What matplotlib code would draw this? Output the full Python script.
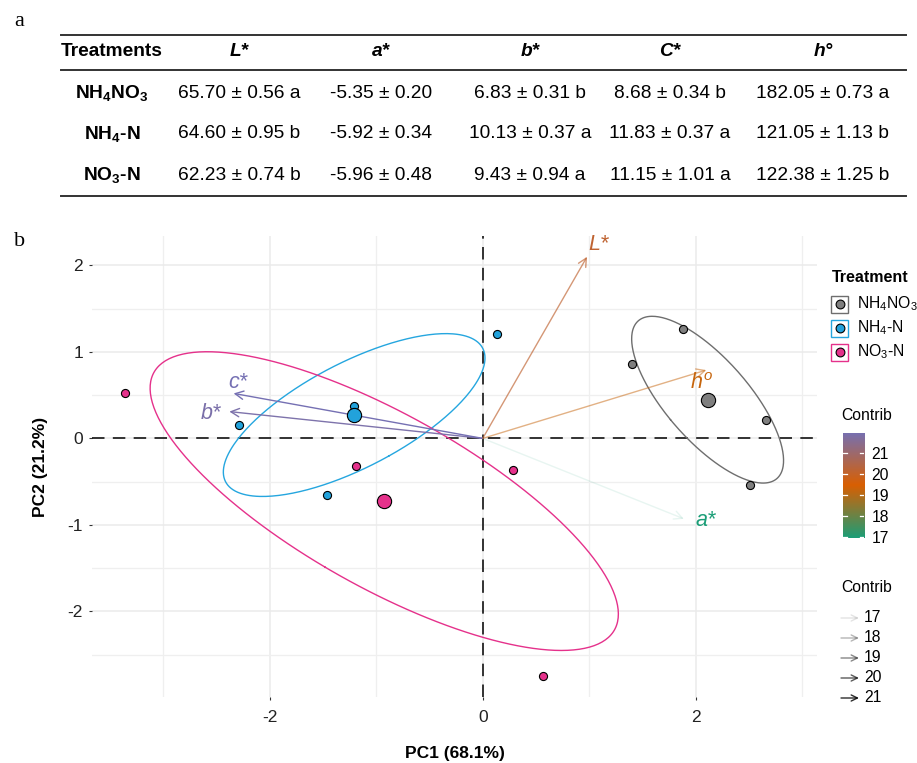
import numpy as np
import matplotlib
matplotlib.use("Agg")
import matplotlib.pyplot as plt
from matplotlib.colors import LinearSegmentedColormap, Normalize
from matplotlib.ticker import MultipleLocator, FixedLocator
from matplotlib.lines import Line2D
from matplotlib.patches import Rectangle

plt.rcParams['font.family'] = ['Liberation Sans', 'DejaVu Sans']
plt.rcParams['mathtext.fontset'] = 'custom'
plt.rcParams['mathtext.default'] = 'regular'
plt.rcParams['mathtext.it'] = 'Liberation Sans:italic'
plt.rcParams['mathtext.rm'] = 'Liberation Sans'
plt.rcParams['lines.scale_dashes'] = False
plt.rcParams['axes.unicode_minus'] = False

# ---------------- data: table (panel a) ----------------
treatments = ['NH$_4$NO$_3$', 'NH$_4$-N', 'NO$_3$-N']
headers = ['Treatments', 'L*', 'a*', 'b*', 'C*', 'h°']
L_mean = [65.70, 64.60, 62.23]
L_sd = [0.56, 0.95, 0.74]
L_grp = ['a', 'b', 'b']
a_mean = [-5.35, -5.92, -5.96]
a_sd = [0.20, 0.34, 0.48]
a_grp = ['', '', '']
b_mean = [6.83, 10.13, 9.43]
b_sd = [0.31, 0.37, 0.94]
b_grp = ['b', 'a', 'a']
C_mean = [8.68, 11.83, 11.15]
C_sd = [0.34, 0.37, 1.01]
C_grp = ['b', 'a', 'a']
h_mean = [182.05, 121.05, 122.38]
h_sd = [0.73, 1.13, 1.25]
h_grp = ['a', 'b', 'b']

# ---------------- data: PCA biplot (panel b) ----------------
groups = ['NH$_4$NO$_3$', 'NH$_4$-N', 'NO$_3$-N']
pc1_NH4NO3 = [1.40, 1.88, 2.66, 2.51]
pc2_NH4NO3 = [0.86, 1.26, 0.21, -0.54]
pc1_NH4N = [-2.29, -1.21, -1.46, 0.13]
pc2_NH4N = [0.15, 0.38, -0.66, 1.21]
pc1_NO3N = [-3.36, -1.19, 0.28, 0.57]
pc2_NO3N = [0.53, -0.32, -0.36, -2.75]

var_names = ['L*', 'a*', 'b*', 'c*', 'h°']
var_pc1 = [0.98, 1.89, -2.38, -2.34, 2.10]
var_pc2 = [2.10, -0.93, 0.31, 0.52, 0.79]
var_contrib = [20.1, 16.95, 21.8, 21.95, 19.2]

contrib_ticks = [17, 18, 19, 20, 21]
pc1_var_pct = 68.1
pc2_var_pct = 21.2

# ---------------- styling ----------------
fill_cols = ['#7F7F7F', '#22A2DB', '#E5318B']
ell_cols = ['#6E6E6E', '#25A6DF', '#E5318B']
grad = LinearSegmentedColormap.from_list('g', ['#1B9E77', '#D95F02', '#7570B3'])
cnorm = Normalize(min(var_contrib), max(var_contrib))


def alpha_of(c):
    return 0.1 + 0.9 * (c - cnorm.vmin) / (cnorm.vmax - cnorm.vmin)


W, H = 917, 763
fig = plt.figure(figsize=(W / 100, H / 100), dpi=100)
ov = fig.add_axes([0, 0, 1, 1])
ov.set_xlim(0, W)
ov.set_ylim(H, 0)
ov.axis('off')

# ---------------- panel a: table ----------------
ov.text(14, 22, 'a', fontsize=16, family='Liberation Serif', va='center', ha='left')
ov.text(14, 241, 'b', fontsize=16, family='Liberation Serif', va='center', ha='left')
for yy in (35, 70, 196):
    ov.add_line(Line2D([61, 906], [yy, yy], color='#333333', lw=1.4))

col_x = [112, 239, 381, 530, 670, 823]
hdr_y = 52
row_y = [93, 134, 175]
tfs = 13.8
for i, h in enumerate(headers):
    style = 'normal' if i == 0 else 'italic'
    ov.text(col_x[i], hdr_y, h, fontsize=tfs, fontweight='bold', fontstyle=style,
            ha='center', va='center')


def fmt(m, s, g):
    t = f'{m:.2f} ± {s:.2f}'
    return t + (' ' + g if g else '')


cols = [(L_mean, L_sd, L_grp), (a_mean, a_sd, a_grp), (b_mean, b_sd, b_grp),
        (C_mean, C_sd, C_grp), (h_mean, h_sd, h_grp)]
for r, tr in enumerate(treatments):
    ov.text(col_x[0], row_y[r], tr, fontsize=tfs, fontweight='bold', ha='center', va='center')
    for c, (m, s, g) in enumerate(cols):
        ov.text(col_x[c + 1], row_y[r], fmt(m[r], s[r], g[r]), fontsize=tfs,
                ha='center', va='center')

# ---------------- panel b: PCA biplot ----------------
ax = fig.add_axes([92 / W, 1 - 697 / H, (817 - 92) / W, (697 - 236) / H])
ax.set_xlim(-3.67, 3.14)
ax.set_ylim(-2.99, 2.34)
for s in ax.spines.values():
    s.set_visible(False)
ax.xaxis.set_major_locator(FixedLocator([-2, 0, 2]))
ax.xaxis.set_minor_locator(FixedLocator([-3, -1, 1, 3]))
ax.yaxis.set_major_locator(MultipleLocator(1))
ax.yaxis.set_minor_locator(FixedLocator([-2.5, -1.5, -0.5, 0.5, 1.5]))
ax.grid(True, which='major', color='#EBEBEB', lw=1.1, zorder=0)
ax.grid(True, which='minor', color='#EFEFEF', lw=0.9, zorder=0)
ax.set_axisbelow(True)
ax.tick_params(which='major', length=2.5, width=0.8, color='#333333',
               labelsize=12.5, labelcolor='#222222', pad=4)
ax.tick_params(axis='x', which='major', pad=7)
ax.tick_params(which='minor', length=0)
ax.set_xlabel(f'PC1 ({pc1_var_pct}%)', fontsize=12.5, fontweight='bold', labelpad=15)
ax.set_ylabel(f'PC2 ({pc2_var_pct}%)', fontsize=12.5, fontweight='bold', labelpad=14)

ax.axhline(0, color='black', lw=1.1, ls=(0, (9, 6)), zorder=2)
ax.axvline(0, color='black', lw=1.1, ls=(0, (9, 6)), zorder=2)

pc1_sets = [pc1_NH4NO3, pc1_NH4N, pc1_NO3N]
pc2_sets = [pc2_NH4NO3, pc2_NH4N, pc2_NO3N]
t = np.linspace(0, 2 * np.pi, 300)
for k in range(3):
    x = np.array(pc1_sets[k])
    y = np.array(pc2_sets[k])
    n = len(x)
    m = np.array([x.mean(), y.mean()])
    cov = np.cov(x, y)
    vals, vecs = np.linalg.eigh(cov)
    rad = np.sqrt(-2 * np.log(0.05)) / np.sqrt(n)
    circ = np.vstack([np.cos(t), np.sin(t)])
    pts = vecs @ (np.sqrt(vals)[:, None] * circ) * rad + m[:, None]
    ax.plot(pts[0], pts[1], color=ell_cols[k], lw=1.0, zorder=3)
    ax.scatter(x, y, s=34, c=fill_cols[k], edgecolors='black', linewidths=0.8, zorder=5)
    ax.scatter([m[0]], [m[1]], s=105, c=fill_cols[k], edgecolors='black', linewidths=0.8,
               zorder=5)

label_offsets = {'L*': (8, 9), 'a*': (16, -1.5), 'b*': (-13, -1.5), 'c*': (3, 8),
                 'h°': (-3, -9.5)}
for nm, vx, vy, vc in zip(var_names, var_pc1, var_pc2, var_contrib):
    col = grad(cnorm(vc))
    ax.annotate('', xy=(vx, vy), xytext=(0, 0),
                arrowprops=dict(arrowstyle='->,head_length=0.6,head_width=0.3',
                                color=col, alpha=alpha_of(vc), lw=1.0,
                                shrinkA=0, shrinkB=0), zorder=4)
    lab = r'$\mathit{h}^{\mathit{o}}$' if nm == 'h°' else nm
    ax.annotate(lab, xy=(vx, vy), xytext=label_offsets[nm], textcoords='offset points',
                ha='center', va='center', fontsize=15.5, fontstyle='italic', color=col,
                zorder=6)

# ---------------- legends ----------------
ov.text(832, 277, 'Treatment', fontsize=11.5, fontweight='bold', ha='left', va='center')
leg_y = [304, 328, 352]
for k in range(3):
    ov.add_patch(Rectangle((831, leg_y[k] - 8.5), 17, 17, fill=False,
                           edgecolor=ell_cols[k], lw=1.0))
    ov.scatter([839.5], [leg_y[k]], s=40, c=fill_cols[k], edgecolors='black',
               linewidths=0.8, zorder=5)
    ov.text(857, leg_y[k], groups[k], fontsize=11.3, ha='left', va='center')

# colorbar
ov.text(841, 416, 'Contrib', fontsize=11.3, ha='left', va='center')
cb_top, cb_bot = 433, 538
cax = fig.add_axes([843 / W, 1 - cb_bot / H, 21 / W, (cb_bot - cb_top) / H])
gr = np.linspace(cnorm.vmin, cnorm.vmax, 256)[:, None]
cax.imshow(gr, aspect='auto', cmap=grad, norm=cnorm, origin='lower',
           extent=[0, 1, cnorm.vmin, cnorm.vmax])
cax.set_xlim(0, 1)
cax.set_ylim(cnorm.vmin, cnorm.vmax)
for s in cax.spines.values():
    s.set_visible(False)
cax.set_xticks([])
cax.set_yticks(contrib_ticks)
cax.tick_params(axis='y', left=False, right=False, labelleft=False, labelright=True,
                labelsize=11.3, pad=2)
for tv in contrib_ticks:
    cax.plot([0, 0.2], [tv, tv], color='white', lw=0.9)
    cax.plot([0.8, 1], [tv, tv], color='white', lw=0.9)

# alpha legend
ov.text(841, 588, 'Contrib', fontsize=11.3, ha='left', va='center')
al_y = [618, 638, 658, 678, 698]
for tv, yy in zip(contrib_ticks, al_y):
    ov.annotate('', xy=(859, yy), xytext=(841, yy),
                arrowprops=dict(arrowstyle='->,head_length=0.45,head_width=0.22',
                                color='black', alpha=min(1, alpha_of(tv)), lw=1.0,
                                shrinkA=0, shrinkB=0))
    ov.text(864, yy, str(tv), fontsize=11.3, ha='left', va='center')

fig.savefig('out.png', dpi=100)
